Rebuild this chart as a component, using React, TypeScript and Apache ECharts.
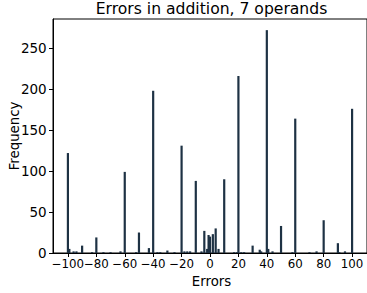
import React, { useEffect, useRef } from "react";
import * as echarts from "echarts";

const errorValues = [-100, -99, -96, -94, -90, -83, -80, -75, -70, -63, -60, -52, -50, -43, -40, -37, -35, -30, -25, -20, -18, -16, -14, -10, -6, -4, -2, -1, 0, 2, 4, 6, 10, 17, 19, 20, 22, 24, 30, 35, 36, 40, 41, 44, 50, 58, 60, 70, 75, 80, 90, 91, 95, 100];
const counts = [122, 5, 2, 2, 9, 1, 19, 1, 1, 2, 99, 1, 25, 6, 198, 1, 1, 3, 1, 131, 2, 2, 2, 88, 2, 27, 5, 22, 20, 23, 30, 5, 90, 1, 1, 216, 1, 1, 9, 4, 2, 272, 5, 2, 33, 1, 164, 1, 2, 40, 12, 1, 2, 176];
const xTicks = [-100, -80, -60, -40, -20, 0, 20, 40, 60, 80, 100];
const yTicks = [0, 50, 100, 150, 200, 250];

const FONT = "DejaVu Sans";

export default function App() {
  const ref = useRef<HTMLDivElement>(null);
  useEffect(() => {
    if (!ref.current) return;
    const chart = echarts.init(ref.current, undefined, { renderer: "svg" });
    const data = errorValues.map((x, i) => [x, counts[i]]);
    const minus = (v: number) => String(v).replace("-", "\u2212");
    const xTicksA = xTicks.filter((_, i) => i % 2 === 0);
    const xTicksB = xTicks.filter((_, i) => i % 2 === 1);
    const labelStyle = {
      formatter: minus,
      color: "#000",
      fontFamily: FONT,
      fontSize: 11.8,
      margin: 5,
      showMinLabel: true,
      showMaxLabel: true,
    };
    chart.setOption({
      animation: false,
      backgroundColor: "#ffffff",
      grid: {
        left: 53,
        top: 19,
        width: 317,
        height: 234,
        show: true,
        borderColor: "#000",
        borderWidth: 1,
        backgroundColor: "transparent",
      },
      xAxis: [
        {
          type: "value",
          min: -110.5,
          max: 110.5,
          position: "bottom",
          splitLine: { show: false },
          axisLine: { show: true, onZero: false, lineStyle: { color: "#000", width: 1 } },
          axisTick: { show: true, length: 4, lineStyle: { color: "#000" }, customValues: xTicks },
          axisLabel: { ...labelStyle, customValues: xTicksA },
        },
        {
          type: "value",
          min: -110.5,
          max: 110.5,
          position: "bottom",
          offset: 0,
          splitLine: { show: false },
          axisLine: { show: false, onZero: false },
          axisTick: { show: false },
          axisLabel: { ...labelStyle, customValues: xTicksB },
        },
      ],
      yAxis: {
        type: "value",
        min: 0,
        max: 285.6,
        splitLine: { show: false },
        axisLine: { show: true, onZero: false, lineStyle: { color: "#000", width: 1 } },
        axisTick: { show: true, length: 4, lineStyle: { color: "#000" }, customValues: yTicks },
        axisLabel: {
          customValues: yTicks,
          color: "#000",
          fontFamily: FONT,
          fontSize: 13.5,
          margin: 6.3,
        },
      },
      series: [
        {
          type: "bar",
          data,
          xAxisIndex: 0,
          barWidth: 2.2,
          itemStyle: { color: "#1e3244" },
        },
      ],
      graphic: [
        {
          type: "text",
          x: 211.5,
          y: 8.6,
          style: {
            text: "Errors in addition, 7 operands",
            fontFamily: FONT,
            fontSize: 15.6,
            fill: "#000",
            align: "center",
            verticalAlign: "middle",
          },
        },
        {
          type: "text",
          x: 211.5,
          y: 281,
          style: {
            text: "Errors",
            fontFamily: FONT,
            fontSize: 13.3,
            fill: "#000",
            align: "center",
            verticalAlign: "middle",
          },
        },
        {
          type: "text",
          x: 14.3,
          y: 136,
          rotation: Math.PI / 2,
          style: {
            text: "Frequency",
            fontFamily: FONT,
            fontSize: 13.3,
            fill: "#000",
            align: "center",
            verticalAlign: "middle",
          },
        },
      ],
    });
    return () => chart.dispose();
  }, []);
  return (
    <div
      ref={ref}
      style={{ position: "fixed", left: 0, top: 0, width: 367, height: 293 }}
    />
  );
}
